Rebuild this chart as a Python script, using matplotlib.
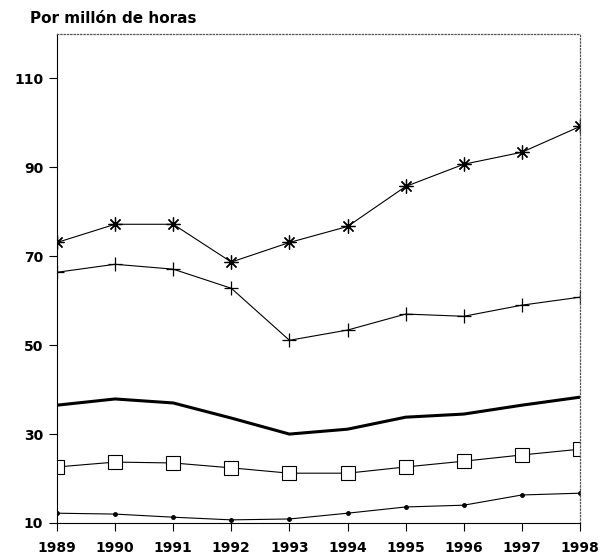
import matplotlib.pyplot as plt

plt.rcParams['font.family'] = ['DejaVu Sans']

years = [1989, 1990, 1991, 1992, 1993, 1994, 1995, 1996, 1997, 1998]

# series
asterisk = [73.1, 77.2, 77.2, 68.7, 73.1, 76.7, 85.7, 90.7, 93.4, 99.2]
plus = [66.4, 68.2, 67.1, 62.8, 51.1, 53.4, 57.0, 56.5, 59.0, 60.8]
thick = [36.5, 37.9, 37.0, 33.6, 30.0, 31.1, 33.8, 34.5, 36.5, 38.3]
square = [22.6, 23.7, 23.5, 22.4, 21.2, 21.2, 22.6, 23.9, 25.3, 26.6]
dots = [12.2, 12.0, 11.3, 10.7, 10.9, 12.2, 13.6, 14.0, 16.3, 16.7]

y_ticks = [10, 30, 50, 70, 90, 110]

fig = plt.figure(figsize=(6.01, 5.55), dpi=100)
ax = fig.add_axes([0.0948, 0.0577, 0.8702, 0.881])

ax.plot(years, asterisk, color='black', lw=0.8, marker=(8, 2, 0), ms=10, mew=0.9)
ax.plot(years, plus, color='black', lw=0.8, marker='+', ms=10, mew=0.9)
ax.plot(years, thick, color='black', lw=2.2)
ax.plot(years, square, color='black', lw=0.8, marker='s', ms=10, mfc='white', mew=0.8)
ax.plot(years, dots, color='black', lw=0.8, marker='o', ms=2.5)

ax.set_xlim(1989, 1998)
ax.set_ylim(10, 120)
ax.set_xticks(years)
ax.set_yticks(y_ticks)

for lab in ax.get_xticklabels() + ax.get_yticklabels():
    lab.set_fontweight('bold')
    lab.set_fontsize(10)

ax.tick_params(axis='both', direction='out', length=6, width=0.8, color='black')
ax.tick_params(axis='x', pad=7)
ax.tick_params(axis='y', pad=4)

for side in ['top', 'right']:
    ax.spines[side].set_linestyle(':')
    ax.spines[side].set_linewidth(0.9)
    ax.spines[side].set_color('#555555')
for side in ['left', 'bottom']:
    ax.spines[side].set_linewidth(0.8)

fig.text(0.05, 0.958, 'Por millón de horas', fontsize=11, fontweight='bold')

plt.savefig('out.png', dpi=100)
